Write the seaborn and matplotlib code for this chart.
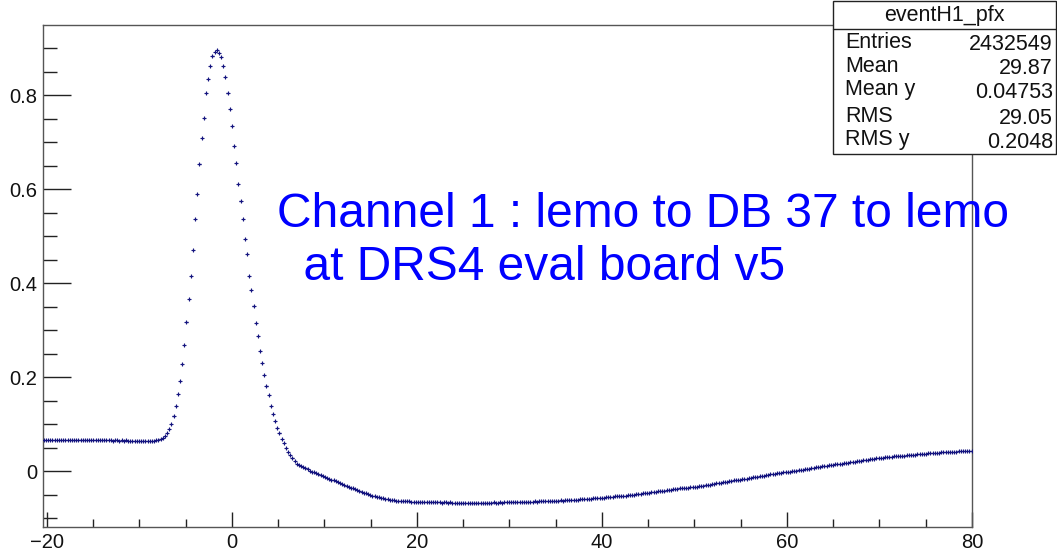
import numpy as np
import pandas as pd
import matplotlib
matplotlib.use("Agg")
import matplotlib.pyplot as plt
import seaborn as sns
from matplotlib.ticker import MultipleLocator, FixedLocator
from matplotlib.patches import Rectangle
from matplotlib.lines import Line2D

# ---------------- data ----------------
X_START = -20.35      # centre of first bin
BIN_WIDTH = 0.2338    # bin width

baseline_y = [
    0.067, 0.066, 0.067, 0.066, 0.066, 0.067, 0.066, 0.066, 0.067, 0.066,
    0.066, 0.066, 0.067, 0.066, 0.066, 0.066, 0.067, 0.066, 0.066, 0.066,
    0.066, 0.067, 0.066, 0.067, 0.066, 0.066, 0.066, 0.066, 0.067, 0.066,
    0.066, 0.066, 0.065, 0.066, 0.066, 0.065, 0.066, 0.065, 0.066, 0.065,
    0.065, 0.065, 0.065, 0.064, 0.065, 0.065, 0.064, 0.065, 0.065, 0.065,
    0.065, 0.065, 0.066, 0.067,
]

pulse_y = [
    0.068, 0.071, 0.074, 0.080, 0.089, 0.101, 0.118, 0.138, 0.163, 0.191,
    0.228, 0.269, 0.317, 0.367, 0.416, 0.470, 0.536, 0.590, 0.653, 0.709,
    0.751, 0.804, 0.834, 0.861, 0.884, 0.891, 0.896, 0.889, 0.880, 0.862,
    0.838, 0.804, 0.770, 0.734, 0.691, 0.655, 0.610, 0.575, 0.537, 0.493,
    0.461, 0.416, 0.385, 0.352, 0.316, 0.288, 0.255, 0.230, 0.205, 0.181,
    0.162, 0.139, 0.122, 0.106, 0.091, 0.080, 0.068, 0.059, 0.050, 0.041,
    0.034, 0.027, 0.021, 0.016,
]

tail_y = [
    0.013, 0.010, 0.008, 0.006, 0.004, 0.001, -0.001, -0.003, -0.005, -0.007,
    -0.008, -0.010, -0.012, -0.014, -0.016, -0.018, -0.020, -0.022, -0.024, -0.025,
    -0.027, -0.029, -0.031, -0.033, -0.035, -0.036, -0.038, -0.040, -0.042, -0.044,
    -0.046, -0.047, -0.049, -0.051, -0.052, -0.054, -0.055, -0.056, -0.057, -0.058,
    -0.059, -0.060, -0.061, -0.062, -0.062, -0.063, -0.063, -0.063, -0.064, -0.064,
    -0.064, -0.064, -0.065, -0.065, -0.065, -0.065,
    -0.065, -0.066, -0.065, -0.066, -0.066, -0.066, -0.065, -0.066,
    -0.066, -0.066, -0.067, -0.066, -0.066, -0.067, -0.066, -0.067,
    -0.067, -0.067, -0.067, -0.068, -0.067, -0.067, -0.068, -0.067,
    -0.068, -0.067, -0.068, -0.067, -0.067, -0.068, -0.067, -0.067,
    -0.067, -0.067, -0.066, -0.067, -0.067, -0.066, -0.067, -0.066, -0.066, -0.066,
    -0.066, -0.066, -0.065, -0.066, -0.066, -0.065, -0.065, -0.066,
    -0.065, -0.065, -0.065, -0.064, -0.065, -0.064, -0.064, -0.064,
    -0.064, -0.064, -0.063, -0.064, -0.063, -0.063, -0.063, -0.062, -0.063,
    -0.062, -0.062, -0.062, -0.061, -0.061, -0.061, -0.061, -0.060, -0.060,
    -0.060, -0.059, -0.059, -0.059, -0.058, -0.058, -0.058, -0.057, -0.057,
    -0.057, -0.056, -0.056, -0.055, -0.055, -0.054, -0.054, -0.054, -0.053,
    -0.052, -0.052, -0.051, -0.051, -0.050, -0.050, -0.049, -0.048, -0.048,
    -0.047, -0.047, -0.046, -0.046, -0.045, -0.045, -0.044, -0.043,
    -0.043, -0.042, -0.042, -0.041, -0.040, -0.040, -0.039, -0.038,
    -0.038, -0.037, -0.037, -0.036, -0.036, -0.035, -0.034, -0.034, -0.033,
    -0.033, -0.032, -0.031, -0.031, -0.030, -0.029, -0.029, -0.028, -0.027,
    -0.026, -0.026, -0.025, -0.024, -0.023, -0.023, -0.022, -0.021, -0.020,
    -0.019, -0.019, -0.018, -0.017, -0.016, -0.016, -0.015, -0.014,
    -0.013, -0.013, -0.012, -0.011, -0.010, -0.010, -0.009, -0.008,
    -0.007, -0.007, -0.006, -0.005, -0.004, -0.004, -0.003, -0.002, -0.002,
    -0.001, 0.000, 0.000, 0.001, 0.002, 0.003, 0.003, 0.004, 0.005,
    0.005, 0.006, 0.007, 0.008, 0.008, 0.009, 0.010, 0.010, 0.011,
    0.012, 0.013, 0.013, 0.014, 0.015, 0.015, 0.016, 0.017, 0.017,
    0.018, 0.019, 0.019, 0.020, 0.021, 0.021, 0.022, 0.023,
    0.023, 0.024, 0.025, 0.025, 0.026, 0.027, 0.027, 0.028,
    0.028, 0.029, 0.029, 0.030, 0.030, 0.031, 0.031, 0.032, 0.032,
    0.033, 0.033, 0.034, 0.034, 0.035, 0.035, 0.035, 0.036, 0.036,
    0.037, 0.037, 0.037, 0.038, 0.038, 0.038, 0.039, 0.039,
    0.039, 0.040, 0.040, 0.040, 0.040, 0.041, 0.041, 0.041,
    0.041, 0.042, 0.042, 0.042, 0.042, 0.043, 0.043, 0.043,
]

stats_title = "eventH1_pfx"
stats_names = ["Entries", "Mean", "Mean y", "RMS", "RMS y"]
stats_values = ["2432549", "29.87", "0.04753", "29.05", "0.2048"]

annotation_lines = ["Channel 1 : lemo to DB 37 to lemo", "  at DRS4 eval board v5"]

x_major_ticks = [-20, 0, 20, 40, 60, 80]
x_tick_labels = ["\u221220", "0", "20", "40", "60", "80"]
y_major_ticks = [0, 0.2, 0.4, 0.6, 0.8]
y_tick_labels = ["0", "0.2", "0.4", "0.6", "0.8"]

# ---------------- build frame ----------------
profile_y = np.array(baseline_y + pulse_y + tail_y)
profile_x = X_START + BIN_WIDTH * np.arange(len(profile_y))
df = pd.DataFrame({"x": profile_x, "y": profile_y})

# ---------------- style ----------------
sns.set_style("white")
plt.rcParams["font.family"] = ["Liberation Sans", "DejaVu Sans"]
plt.rcParams["axes.unicode_minus"] = True

W, H = 1057, 553
fig = plt.figure(figsize=(W / 100, H / 100), dpi=100)
fig.patch.set_facecolor("white")
ax = fig.add_axes([43 / W, 1 - 527 / H, (972 - 43) / W, (527 - 25) / H])
ax.set_facecolor("white")

MARK = "#14147f"
ax.errorbar(df["x"], df["y"], xerr=BIN_WIDTH / 2, fmt="none",
            ecolor=MARK, elinewidth=1.0, capsize=0, zorder=2)
sns.scatterplot(data=df, x="x", y="y", ax=ax, marker="+", s=5,
                color=MARK, linewidth=0.8, zorder=3, legend=False)

ax.set_xlim(-20.43, 80)
ax.set_ylim(-0.119, 0.949)
ax.set_xlabel("")
ax.set_ylabel("")

ax.xaxis.set_major_locator(FixedLocator(x_major_ticks))
ax.xaxis.set_minor_locator(MultipleLocator(5))
ax.yaxis.set_major_locator(FixedLocator(y_major_ticks))
ax.yaxis.set_minor_locator(MultipleLocator(0.05))
ax.set_yticklabels(y_tick_labels)
ax.set_xticklabels(x_tick_labels)

for sp in ax.spines.values():
    sp.set_color("#555555")
    sp.set_linewidth(1.0)

ax.tick_params(axis="y", which="major", direction="in", length=20.2, width=1.0,
               color="#222222", labelsize=14.5, pad=4, left=True, right=False)
ax.tick_params(axis="y", which="minor", direction="in", length=10.1, width=1.0,
               color="#222222", left=True, right=False)
ax.tick_params(axis="x", which="major", direction="in", length=11, width=1.0,
               color="#222222", labelsize=14.5, pad=4, bottom=True, top=False)
ax.tick_params(axis="x", which="minor", direction="in", length=5.8, width=1.0,
               color="#222222", bottom=True, top=False)
for lab in ax.get_xticklabels() + ax.get_yticklabels():
    lab.set_color("#111111")

# annotation text
fig.text(277 / W, 1 - 227 / H, annotation_lines[0], color="#0000ff",
         fontsize=34.5, ha="left", va="baseline")
fig.text(277 / W, 1 - 280 / H, annotation_lines[1], color="#0000ff",
         fontsize=34.5, ha="left", va="baseline")

# statistics box
bx0, by0, bx1, by1 = 833, 1, 1056, 154
fig.add_artist(Rectangle((bx0 / W, 1 - by1 / H), (bx1 - bx0) / W, (by1 - by0) / H,
                         transform=fig.transFigure, facecolor="white",
                         edgecolor="#222222", linewidth=1.0, zorder=5))
fig.add_artist(Line2D([bx0 / W, bx1 / W], [1 - 29 / H, 1 - 29 / H],
                      transform=fig.transFigure, color="#222222",
                      linewidth=1.0, zorder=6))
fig.text((bx0 + bx1) / 2 / W, 1 - 15 / H, stats_title, ha="center", va="center",
         fontsize=15.5, color="#111111", zorder=7)
row_y = [43, 67, 90, 116, 140]
for name, val, ry in zip(stats_names, stats_values, row_y):
    fig.text(845 / W, 1 - ry / H, name, ha="left", va="center",
             fontsize=15.5, color="#111111", zorder=7)
    fig.text(1053 / W, 1 - (ry + 2) / H, val, ha="right", va="center",
             fontsize=15.5, color="#111111", zorder=7)

fig.savefig("out.png", dpi=100, facecolor="white")
